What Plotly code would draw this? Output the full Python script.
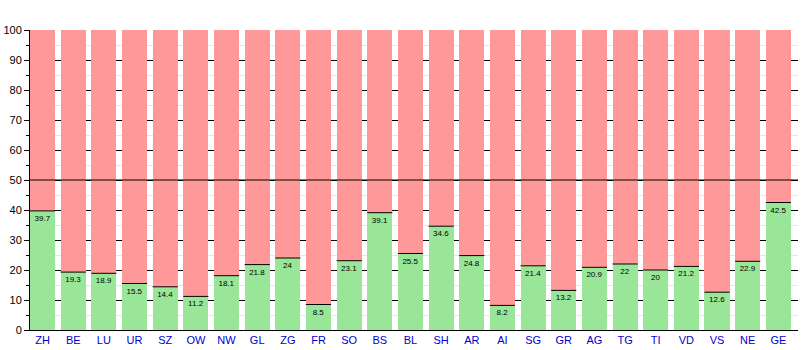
import plotly.graph_objects as go

# Share of "yes" votes per canton (percent); the remainder up to 100 is "no"
cantons = ["ZH", "BE", "LU", "UR", "SZ", "OW", "NW", "GL", "ZG", "FR", "SO", "BS", "BL",
           "SH", "AR", "AI", "SG", "GR", "AG", "TG", "TI", "VD", "VS", "NE", "GE"]
yes_share = [39.7, 19.3, 18.9, 15.5, 14.4, 11.2, 18.1, 21.8, 24, 8.5, 23.1, 39.1, 25.5,
             34.6, 24.8, 8.2, 21.4, 13.2, 20.9, 22, 20, 21.2, 12.6, 22.9, 42.5]
no_share = [round(100 - v, 1) for v in yes_share]
y_ticks = list(range(0, 101, 10))

GREEN = "#99E699"
RED = "#FF9999"
FONT = "Liberation Sans, Arial, sans-serif"

xs = list(range(len(cantons)))
bar_w = 0.82

fig = go.Figure()
fig.add_trace(go.Bar(
    x=xs, y=yes_share, width=bar_w,
    marker=dict(color=GREEN, line=dict(width=0)),
    text=[f"{v:g}" for v in yes_share],
    textposition="inside", insidetextanchor="end",
    textfont=dict(size=8, color="black", family=FONT),
    textangle=0, constraintext="none",
    hoverinfo="x+y", showlegend=False,
))
fig.add_trace(go.Bar(
    x=xs, y=no_share, width=bar_w,
    marker=dict(color=RED, line=dict(width=0)),
    hoverinfo="x+y", showlegend=False,
))

# Thin dark edge on top of each green segment
edge_x, edge_y = [], []
for i, v in enumerate(yes_share):
    edge_x += [i - bar_w / 2, i + bar_w / 2, None]
    edge_y += [v, v, None]
fig.add_trace(go.Scatter(
    x=edge_x, y=edge_y, mode="lines",
    line=dict(color="black", width=1),
    hoverinfo="skip", showlegend=False,
))

# 50 % majority line drawn above the bars
fig.add_shape(type="line", xref="paper", yref="y", x0=0, x1=1, y0=50, y1=50,
              line=dict(color="black", width=1), layer="above")

fig.update_layout(
    barmode="stack",
    width=801, height=350,
    margin=dict(l=30, r=3, t=30, b=20),
    paper_bgcolor="white", plot_bgcolor="white",
    font=dict(family=FONT, size=11, color="black"),
)
fig.update_xaxes(
    range=[-bar_w / 2, 25.05 - bar_w / 2],
    tickmode="array", tickvals=xs, ticktext=cantons,
    tickfont=dict(color="#0000CC", size=11, family=FONT),
    showgrid=False, zeroline=False,
    showline=True, linecolor="black", linewidth=1,
    ticks="", fixedrange=True,
)
fig.update_yaxes(
    range=[0, 100], tickmode="array", tickvals=y_ticks,
    tickfont=dict(color="black", size=11, family=FONT),
    showgrid=True, gridcolor="black", gridwidth=1,
    zeroline=False,
    showline=True, linecolor="black", linewidth=1,
    ticks="outside", ticklen=5, tickcolor="black", tickwidth=1,
    minor=dict(dtick=5, showgrid=True, gridcolor="#E6E6E6", gridwidth=1,
               ticks="outside", ticklen=3, tickcolor="black", tickwidth=1),
    fixedrange=True,
)

fig.write_html("out.html")
